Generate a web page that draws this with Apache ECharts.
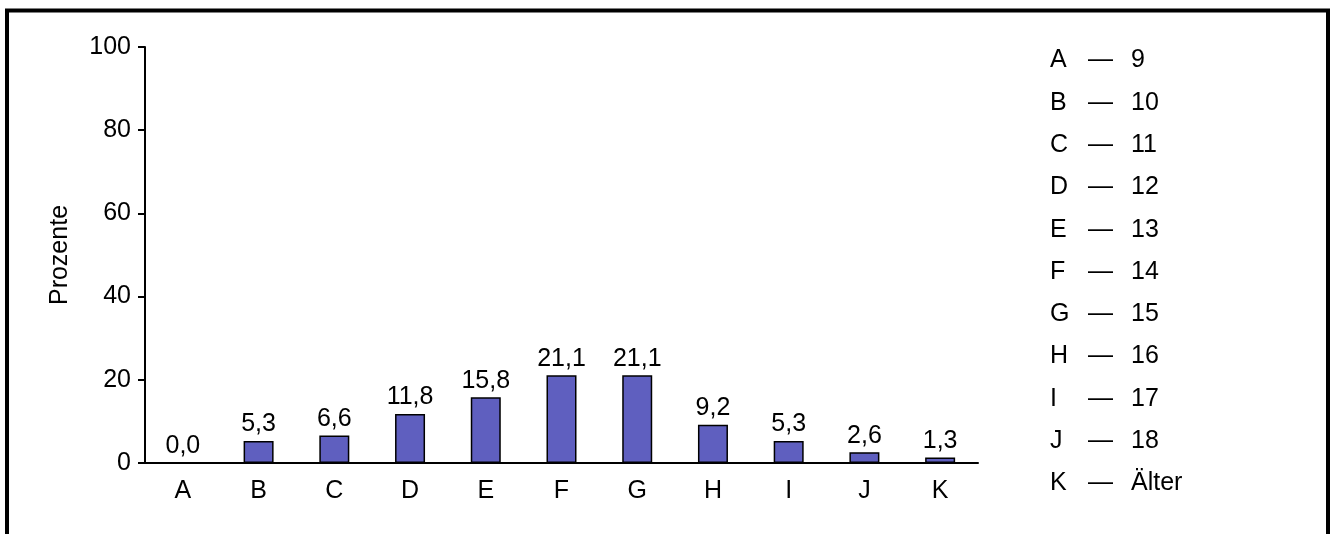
<!DOCTYPE html>
<html>
<head>
<meta charset="utf-8">
<script src="https://cdn.jsdelivr.net/npm/echarts@6/dist/echarts.min.js"></script>
<style>
  html, body { margin: 0; padding: 0; background: #fff; }
  #chart { width: 1336px; height: 534px; }
</style>
</head>
<body>
<div id="chart"></div>
<script>
// Kategorien und Werte (Prozente)
var categories = ['A', 'B', 'C', 'D', 'E', 'F', 'G', 'H', 'I', 'J', 'K']
var percents = [0.0, 5.3, 6.6, 11.8, 15.8, 21.1, 21.1, 9.2, 5.3, 2.6, 1.3]
// Legende rechts: Buchstabe -> Alter
var legendKeys = ['A', 'B', 'C', 'D', 'E', 'F', 'G', 'H', 'I', 'J', 'K']
var legendAges = ['9', '10', '11', '12', '13', '14', '15', '16', '17', '18', 'Älter']

var font = 'Liberation Sans, Arial, sans-serif'
var fs = 25
var myChart = echarts.init(document.getElementById('chart'))

var graphics = [{
  type: 'rect',
  shape: { x: 7, y: 10.5, width: 1321, height: 600 },
  style: { fill: 'none', stroke: '#000', lineWidth: 4 },
  silent: true
}]
legendKeys.forEach(function (k, i) {
  var y = 61 + i * 42.3
  graphics.push({
    type: 'text', left: 1050, top: y - 13,
    style: { text: k, font: fs + 'px ' + font, fill: '#000' }
  })
  graphics.push({
    type: 'text', left: 1088, top: y - 13,
    style: { text: '—', font: fs + 'px ' + font, fill: '#000' }
  })
  graphics.push({
    type: 'text', left: 1131, top: y - 13,
    style: { text: legendAges[i], font: fs + 'px ' + font, fill: '#000' }
  })
})

var option = {
  animation: false,
  textStyle: { fontFamily: font },
  grid: { left: 145, top: 47, right: 358, bottom: 71 },
  xAxis: {
    type: 'category',
    data: categories,
    axisLine: { lineStyle: { color: '#000', width: 2 } },
    axisTick: { show: false },
    axisLabel: { color: '#000', fontSize: fs, margin: 16 }
  },
  yAxis: {
    type: 'value',
    min: 0,
    max: 100,
    interval: 20,
    name: 'Prozente',
    nameLocation: 'middle',
    nameGap: 72,
    nameTextStyle: { color: '#000', fontSize: fs },
    splitLine: { show: false },
    axisLine: { show: true, lineStyle: { color: '#000', width: 2 } },
    axisTick: { show: true, length: 7, lineStyle: { color: '#000', width: 2 } },
    axisLabel: { color: '#000', fontSize: fs, margin: 14 }
  },
  series: [{
    type: 'bar',
    data: percents,
    barWidth: 30,
    itemStyle: { color: '#5f5fbf', borderColor: '#000', borderWidth: 1.5 },
    label: {
      show: true,
      position: 'top',
      distance: 4,
      color: '#000',
      fontSize: fs,
      formatter: function (p) {
        return p.value.toFixed(1).replace('.', ',')
      }
    }
  }],
  graphic: graphics
}
myChart.setOption(option)
</script>
</body>
</html>
